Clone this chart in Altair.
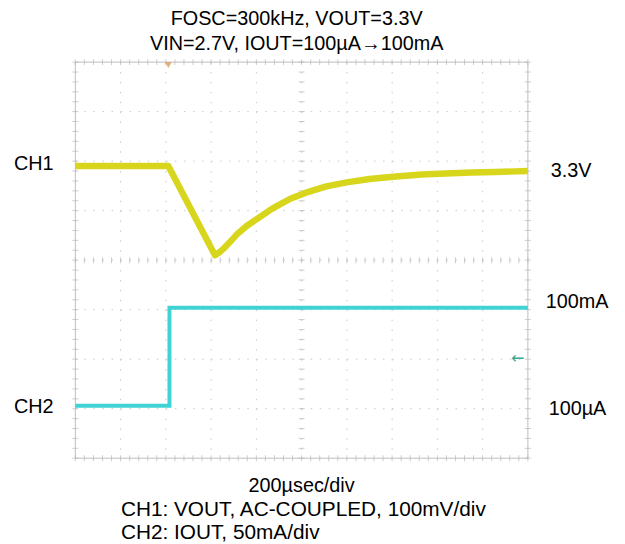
import altair as alt
import pandas as pd
import numpy as np

# ---- data (time in µs, vertical in divisions; screen centre = 0) ----
ch1_t = [0, 411, 617, 640, 661, 690, 718, 760, 805, 870, 950, 1030, 1110, 1199,
         1300, 1418, 1530, 1637, 1750, 1856, 2000]
ch1_v = [1.90, 1.90, 0.10, 0.17, 0.26, 0.40, 0.54, 0.70, 0.84, 1.04, 1.24, 1.38, 1.49, 1.57,
         1.64, 1.69, 1.73, 1.75, 1.77, 1.78, 1.80]

ch2_t = [0, 416, 416, 2000]
ch2_v = [-2.94, -2.94, -0.96, -0.96]

step_t = [416]
step_lo = [-2.94]
step_hi = [-0.96]

trig_t = [411]
gnd2_t = [1955]
gnd2_v = [-1.98]

title_lines = ["FOSC=300kHz, VOUT=3.3V", "VIN=2.7V, IOUT=100µA\u2192100mA"]
bottom_lines = ["200µsec/div", "CH1: VOUT, AC-COUPLED, 100mV/div", "CH2: IOUT, 50mA/div"]
left_labels = ["CH1", "CH2"]
left_levels = [1.94, -2.96]
right_labels = ["3.3V", "100mA", "100µA"]
right_levels = [1.80, -0.84, -3.0]

X_DOM = [0, 2000]
Y_DOM = [-4, 4]
FONT = "Liberation Sans"
FS = 20

xs = alt.Scale(domain=X_DOM, nice=False, zero=False)
ys = alt.Scale(domain=Y_DOM, nice=False, zero=False)
X = lambda f: alt.X(f, type="quantitative", scale=xs, axis=None)
Y = lambda f: alt.Y(f, type="quantitative", scale=ys, axis=None)

grid_c = "#c8c8c8"

# grid
vgrid = pd.DataFrame({"x": [200 * k for k in range(1, 10)]})
hgrid = pd.DataFrame({"y": list(range(-3, 4))})
vg = alt.Chart(vgrid).mark_rule(color=grid_c, strokeDash=[1.5, 8.5], strokeWidth=1).encode(
    x=X("x"), y=alt.value(0), y2=alt.value(400))
hg = alt.Chart(hgrid).mark_rule(color=grid_c, strokeDash=[1.5, 7.64], strokeWidth=1).encode(
    y=Y("y"), x=alt.value(0), x2=alt.value(457))

# border
border = alt.Chart(pd.DataFrame({"a": [0]})).mark_rect(
    fill=None, stroke="#bdbdbd", strokeWidth=1).encode(
    x=alt.value(0), x2=alt.value(457), y=alt.value(0), y2=alt.value(400))

# minor ticks
xt = np.arange(0, 2001, 40)
xticks = pd.DataFrame({"x": np.tile(xt, 3), "y": np.repeat([4, 0, -4], len(xt))})
yt = np.round(np.arange(-4, 4.001, 0.2), 2)
yticks = pd.DataFrame({"y": np.tile(yt, 3), "x": np.repeat([0, 1000, 2000], len(yt))})
xtk = alt.Chart(xticks).mark_tick(orient="vertical", size=6, thickness=1, color="#b8b8b8").encode(
    x=X("x"), y=Y("y"))
ytk = alt.Chart(yticks).mark_tick(orient="horizontal", size=6, thickness=1, color="#b8b8b8").encode(
    x=X("x"), y=Y("y"))

# traces
ch1 = alt.Chart(pd.DataFrame({"t": ch1_t, "v": ch1_v})).mark_line(
    color="#d7d51c", strokeWidth=6.5, strokeJoin="round", strokeCap="butt").encode(x=X("t"), y=Y("v"))
ch2 = alt.Chart(pd.DataFrame({"t": ch2_t, "v": ch2_v, "o": range(4)})).mark_line(
    color="#3fd3d6", strokeWidth=4).encode(x=X("t"), y=Y("v"), order="o:Q")
step = alt.Chart(pd.DataFrame({"t": step_t, "lo": step_lo, "hi": step_hi})).mark_rule(
    color="#8a8a8a", strokeWidth=1.8).encode(x=X("t"), y=Y("lo"), y2="hi")

trig = alt.Chart(pd.DataFrame({"t": trig_t, "y": [4]})).mark_point(
    shape="triangle-down", filled=True, size=45, color="#d98b3c", yOffset=3).encode(x=X("t"), y=Y("y"))
gnd = alt.Chart(pd.DataFrame({"t": gnd2_t, "y": gnd2_v})).mark_text(
    text="\u2190", fontSize=16, color="#3aa890", font="DejaVu Sans").encode(x=X("t"), y=Y("y"))

layers = [vg, hg, border, xtk, ytk, ch1, step, ch2, trig, gnd]

# texts
for i, s in enumerate(title_lines):
    layers.append(alt.Chart(pd.DataFrame({"x": [1000], "y": [4]})).mark_text(
        text=s, font=FONT, fontSize=FS, color="black", align="center", baseline="middle",
        dx=-5, dy=-43 + 25 * i).encode(x=X("x"), y=Y("y")))
for i, s in enumerate(bottom_lines):
    if i == 0:
        mk = alt.Chart(pd.DataFrame({"x": [1000], "y": [-4]})).mark_text(
            text=s, font=FONT, fontSize=FS, color="black", align="center", baseline="middle", dy=28)
    else:
        mk = alt.Chart(pd.DataFrame({"x": [0], "y": [-4]})).mark_text(
            text=s, font=FONT, fontSize=21, color="black", align="left", baseline="middle",
            dx=46, dy=28 + 24 * i)
    layers.append(mk.encode(x=X("x"), y=Y("y")))
for s, v in zip(left_labels, left_levels):
    layers.append(alt.Chart(pd.DataFrame({"x": [0], "y": [v]})).mark_text(
        text=s, font=FONT, fontSize=FS, color="black", align="right", baseline="middle", dx=-22
    ).encode(x=X("x"), y=Y("y")))
for s, v, d in zip(right_labels, right_levels, [23, 18, 21]):
    layers.append(alt.Chart(pd.DataFrame({"x": [2000], "y": [v]})).mark_text(
        text=s, font=FONT, fontSize=FS, color="black", align="left", baseline="middle", dx=d
    ).encode(x=X("x"), y=Y("y")))

chart = alt.layer(*layers).properties(
    width=457, height=400,
    autosize=alt.AutoSizeParams(type="none"),
    padding={"left": 68, "top": 52, "right": 90, "bottom": 84},
).configure_view(stroke=None)

chart.save("out.html", embed_options={"renderer": "svg", "actions": False})
